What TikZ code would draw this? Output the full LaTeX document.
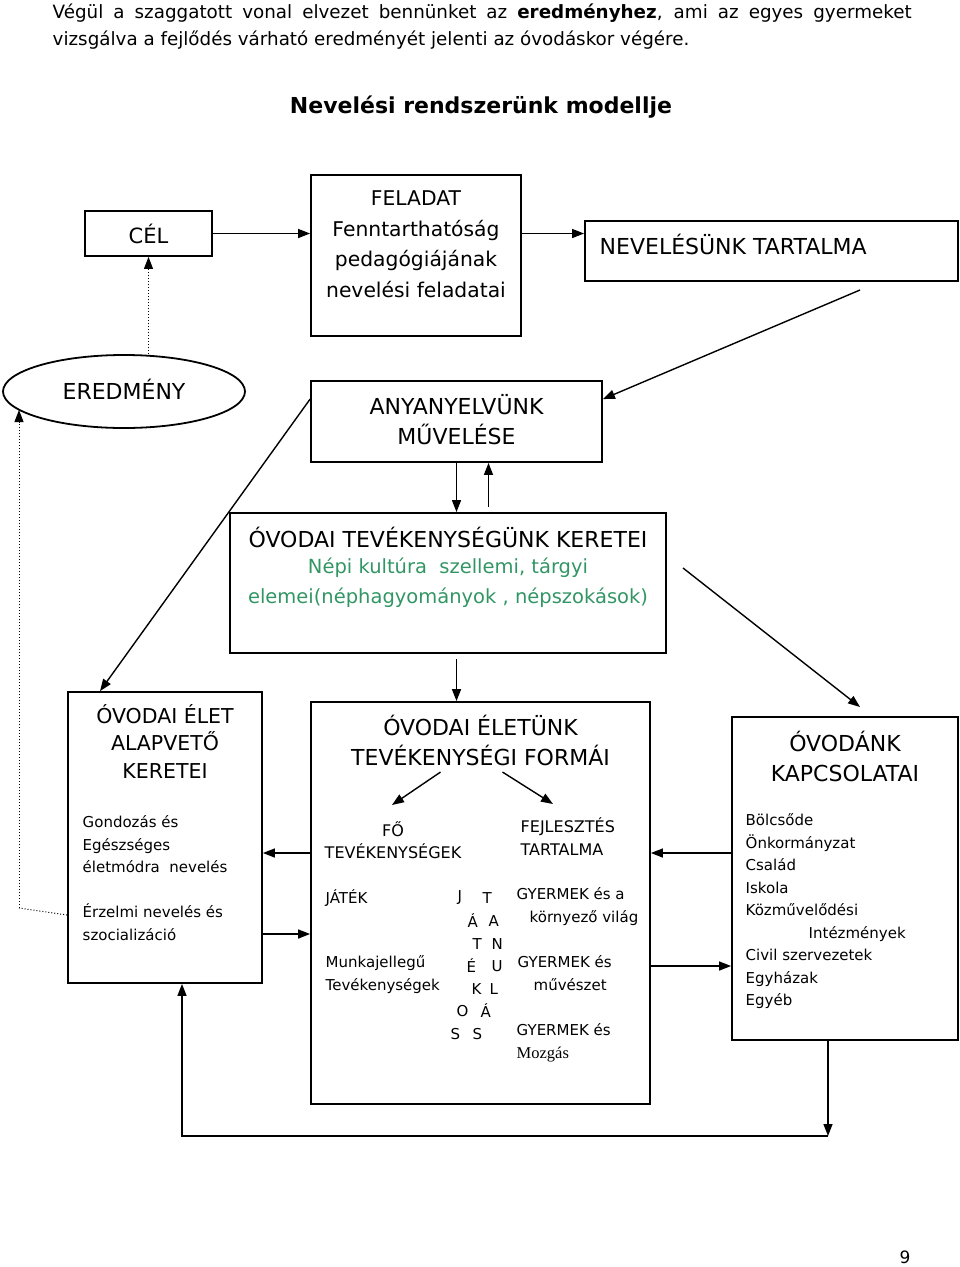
\documentclass[tikz,border=0pt]{standalone}
\usepackage{fontspec}
\setmainfont{DejaVu Sans}
\newfontfamily\timesf{Liberation Serif}
\usetikzlibrary{calc,arrows.meta,shapes.geometric}
\definecolor{nepzold}{RGB}{50,150,100}
\tikzset{
  doboz/.style={draw,line width=1.8pt,rectangle,inner sep=0pt},
  nagy/.style={font=\fontsize{22}{30}\selectfont,align=center,inner sep=0pt},
  kicsi/.style={font=\fontsize{15}{22.5}\selectfont,align=left,inner sep=0pt,anchor=west},
  nyil/.style={-{Triangle[length=12pt,width=9pt]}},
}
\newcommand{\betu}[4]{\node[kicsi](#1) at (#2,#3) {#4};}

\begin{document}
\begin{tikzpicture}[x=1pt,y=-1pt,line width=1.4pt]
	\useasboundingbox (0,0) rectangle (960,1267);
	% bevezeto szoveg
	\node[anchor=north west,inner sep=0pt,text width=859pt,align=justify,font=\fontsize{18.3}{27}\selectfont](bev) at (52,3)
		{Végül a szaggatott vonal elvezet bennünket az \textbf{eredményhez}, ami az egyes gyermeket\linebreak vizsgálva a fejlődés várható eredményét jelenti az óvodáskor végére.};
	\node[font=\fontsize{22}{26}\selectfont\bfseries](cim) at (481,107) {Nevelési rendszerünk modellje};

	% felso sor
	\node[doboz,minimum width=127pt,minimum height=45pt](cel) at (148.5,233.5) {};
	\node[nagy,font=\fontsize{21}{30}\selectfont](celt) at (cel) {CÉL};
	\node[doboz,minimum width=210pt,minimum height=161pt](feladat) at (416,255.5) {};
	\node[nagy,font=\fontsize{20.3}{30.5}\selectfont](feladatt) at (416,244) {FELADAT\\Fenntarthatóság\\pedagógiájának\\nevelési feladatai};
	\node[doboz,minimum width=373pt,minimum height=60pt](tartalma) at (771.5,251) {};
	\node[nagy,anchor=west](tartalmat) at (599,244) {NEVELÉSÜNK TARTALMA};

	% masodik sor
	\node[draw,line width=1.8pt,ellipse,minimum width=242pt,minimum height=73pt](eredmeny) at (124,391.5) {};
	\node[nagy](eredmenyt) at (124,389) {EREDMÉNY};
	\node[doboz,minimum width=291pt,minimum height=81pt](anyanyelv) at (456.5,421.5) {};
	\node[nagy](anyanyelvt) at (456.5,420) {ANYANYELVÜNK\\MŰVELÉSE};
	\node[doboz,minimum width=436pt,minimum height=140pt](keretei) at (448,583) {};
	\node[nagy](kereteit) at (448,537) {ÓVODAI TEVÉKENYSÉGÜNK KERETEI};
	\node[nagy,font=\fontsize{19.5}{30.5}\selectfont,text=nepzold](nepi) at (448,582.5) {Népi kultúra\ \ szellemi, tárgyi\\elemei(néphagyományok , népszokások)};

	% also sor
	\node[doboz,minimum width=194pt,minimum height=291pt](elet) at (165,837.5) {};
	\node[nagy,font=\fontsize{20.5}{27.5}\selectfont](elett) at (165,741) {ÓVODAI ÉLET\\ALAPVETŐ\\KERETEI};
	\node[kicsi,anchor=north west](gond) at (82,815) {Gondozás és\\Egészséges\\életmódra\ \ nevelés\\[22.5pt]Érzelmi nevelés és\\szocializáció};

	\node[doboz,minimum width=339pt,minimum height=402pt](eletunk) at (480.5,903) {};
	\node[nagy](eletunkt) at (480.5,740) {ÓVODAI ÉLETÜNK\\TEVÉKENYSÉGI FORMÁI};
	\node[kicsi,font=\fontsize{16}{22.5}\selectfont,align=center,anchor=center](fo) at (393,840) {FŐ\\TEVÉKENYSÉGEK};
	\node[kicsi,font=\fontsize{16}{22.5}\selectfont,anchor=north west](fejl) at (520,817) {FEJLESZTÉS\\TARTALMA};
	\node[kicsi](jatek) at (325,898) {JÁTÉK};
	\node[kicsi,anchor=north west](munka) at (325,955) {Munkajellegű\\Tevékenységek};
	\node[kicsi,anchor=north west](gy1) at (516,887) {GYERMEK és a\\\hspace*{13pt}környező világ};
	\node[kicsi,anchor=north west](gy2) at (517,955) {GYERMEK és\\\hspace*{16pt}művészet};
	\node[kicsi,anchor=north west](gy3) at (516,1023) {GYERMEK és\\{\timesf\fontsize{16.5}{22.5}\selectfont Mozgás}};
	% JATEKOS TANULAS betui
	\betu{j1}{457}{898}{J}	\betu{t1}{482}{898}{T}
	\betu{j2}{467}{921}{Á}	\betu{t2}{488}{921}{A}
	\betu{j3}{472}{944}{T}	\betu{t3}{491}{944}{N}
	\betu{j4}{466}{966}{É}	\betu{t4}{491}{966}{U}
	\betu{j5}{471}{989}{K}	\betu{t5}{489}{989}{L}
	\betu{j6}{456}{1011}{O}	\betu{t6}{480}{1011}{Á}
	\betu{j7}{450}{1034}{S}	\betu{t7}{472}{1034}{S}

	\node[doboz,minimum width=226pt,minimum height=323pt](kapcs) at (845,878.5) {};
	\node[nagy](kapcst) at (845,756) {ÓVODÁNK\\KAPCSOLATAI};
	\node[kicsi,anchor=north west](lista) at (745,813) {Bölcsőde\\Önkormányzat\\Család\\Iskola\\Közművelődési\\\hspace*{63pt}Intézmények\\Civil szervezetek\\Egyházak\\Egyéb};

	\node[font=\fontsize{17}{20}\selectfont](oldal) at (905,1257) {9};

	% segedpontok
	\coordinate (tv) at (860,290);
	\coordinate (kv) at (683,568);
	\coordinate (kh) at (860,707);
	\coordinate (fa) at (392,805);
	\coordinate (fb) at (553,804);
	\coordinate (s1) at (0,853);
	\coordinate (s2) at (0,934);
	\coordinate (s3) at (0,966);
	\coordinate (sz1) at (19,908);
	\coordinate (sz2) at (19,410);
	\coordinate (ah1) at (182,1136);
	\coordinate (ah2) at (828,1136);

	% nyilak
	\draw[nyil] (cel) -- (feladat.west |- cel);
	\draw[nyil] (feladat.east |- cel) -- (tartalma.west |- cel);
	\draw[nyil] (tv) -- ([yshift=-19pt]anyanyelv.north east);
	\draw[dotted,line width=1pt,nyil] (eredmeny.north -| cel.south) -- (cel.south);
	\draw[nyil] (anyanyelv.south) -- (anyanyelv.south |- keretei.north);
	\draw[nyil] ([xshift=32pt,yshift=5pt]anyanyelv.south |- keretei.north) -- ([xshift=32pt]anyanyelv.south);
	\draw[nyil] ([yshift=-19pt]anyanyelv.north west) -- ([xshift=-65pt]elet.north);
	\draw[nyil] ([yshift=-5pt]anyanyelv.south |- keretei.south) -- (anyanyelv.south |- eletunk.north);
	\draw[nyil] (kv) -- (kh);
	\draw[nyil] ([xshift=-40pt,yshift=-6pt]eletunkt.south) -- (fa);
	\draw[nyil] ([xshift=22pt,yshift=-6pt]eletunkt.south) -- (fb);
	\draw[nyil] (eletunk.west |- s1) -- (elet.east |- s1);
	\draw[nyil] (elet.east |- s2) -- (eletunk.west |- s2);
	\draw[nyil] (kapcs.west |- s1) -- (eletunk.east |- s1);
	\draw[nyil] (eletunk.east |- s3) -- (kapcs.west |- s3);
	\draw[nyil] (kapcs.south -| ah2) -- (ah2);
	\draw[nyil] (ah2) -- (ah1) -- (ah1 |- elet.south);
	\draw[dotted,line width=1pt] ([yshift=-77.5pt]elet.west) -- (sz1);
	\draw[dotted,line width=1pt,nyil] (sz1) -- (sz2);
\end{tikzpicture}
\end{document}
